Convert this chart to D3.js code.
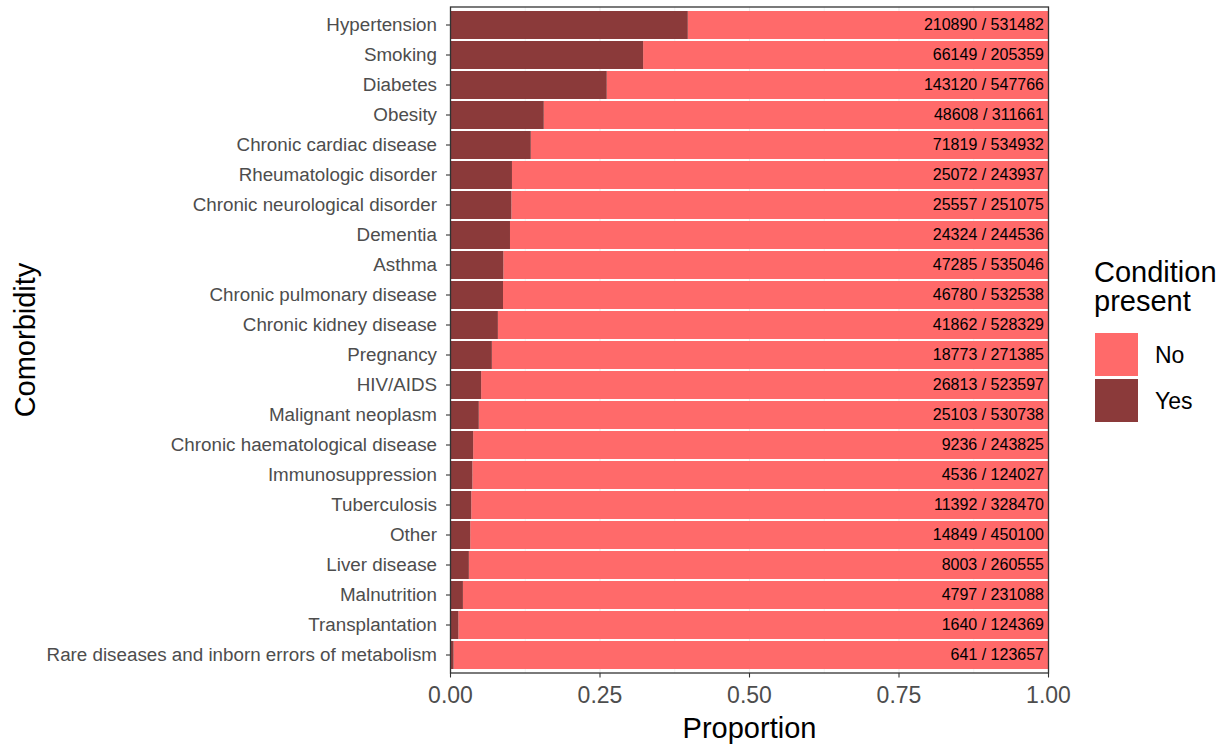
<!DOCTYPE html>
<html><head><meta charset="utf-8">
<script src="https://cdn.jsdelivr.net/npm/d3@7"></script>
<style>body{margin:0;background:#fff;font-family:"Liberation Sans",Arial,sans-serif;}</style>
</head><body><svg id="c" width="1226" height="746"></svg>
<script>
const categories = ["Hypertension","Smoking","Diabetes","Obesity","Chronic cardiac disease","Rheumatologic disorder","Chronic neurological disorder","Dementia","Asthma","Chronic pulmonary disease","Chronic kidney disease","Pregnancy","HIV/AIDS","Malignant neoplasm","Chronic haematological disease","Immunosuppression","Tuberculosis","Other","Liver disease","Malnutrition","Transplantation","Rare diseases and inborn errors of metabolism"];
const yesCounts = [210890,66149,143120,48608,71819,25072,25557,24324,47285,46780,41862,18773,26813,25103,9236,4536,11392,14849,8003,4797,1640,641];
const totalCounts = [531482,205359,547766,311661,534932,243937,251075,244536,535046,532538,528329,271385,523597,530738,243825,124027,328470,450100,260555,231088,124369,123657];
const xTicks = [0,0.25,0.5,0.75,1];
const xTickLabels = ["0.00","0.25","0.50","0.75","1.00"];
const legendLabels = ["No","Yes"];
const colors = {No:"#FF6A6A", Yes:"#8B3A3A"};

const svg = d3.select("#c");
const L = 450.5, R = 1048.5, T = 7, B = 673;
const x = d3.scaleLinear().domain([0,1]).range([L,R]);
const n = categories.length;
const unit = (B - T) / (n - 1 + 1.2);
const yc = d3.scalePoint().domain(categories).range([T + 0.6*unit, B - 0.6*unit]);
const bh = 28;

// grid
const g = svg.append("g");
d3.range(0.125,1,0.25).forEach(v=>g.append("line").attr("x1",x(v)).attr("x2",x(v)).attr("y1",T).attr("y2",B).attr("stroke","#ebebeb").attr("stroke-width",0.6));
xTicks.forEach(v=>g.append("line").attr("x1",x(v)).attr("x2",x(v)).attr("y1",T).attr("y2",B).attr("stroke","#ebebeb").attr("stroke-width",1.1));
categories.forEach(c=>g.append("line").attr("x1",L).attr("x2",R).attr("y1",yc(c)).attr("y2",yc(c)).attr("stroke","#ebebeb").attr("stroke-width",1.1));

const data = categories.map((c,i)=>({c, yes:yesCounts[i], total:totalCounts[i], p:yesCounts[i]/totalCounts[i]}));
svg.append("g").selectAll("rect").data(data).join("rect")
  .attr("x",d=>x(d.p)).attr("width",d=>x(1)-x(d.p))
  .attr("y",d=>yc(d.c)-bh/2).attr("height",bh).attr("fill",colors.No);
svg.append("g").selectAll("rect").data(data).join("rect")
  .attr("x",x(0)).attr("width",d=>x(d.p)-x(0))
  .attr("y",d=>yc(d.c)-bh/2).attr("height",bh).attr("fill",colors.Yes);
svg.append("g").selectAll("text").data(data).join("text")
  .attr("x",1044).attr("y",d=>yc(d.c)).attr("dy","0.3em").attr("text-anchor","end")
  .attr("font-size",16).attr("fill","#000").text(d=>d.yes+" / "+d.total);

svg.append("rect").attr("x",L).attr("y",T).attr("width",R-L).attr("height",B-T).attr("fill","none").attr("stroke","#333").attr("stroke-width",1.3);

const ya = svg.append("g");
categories.forEach(c=>{
  ya.append("line").attr("x1",L-4.5).attr("x2",L).attr("y1",yc(c)).attr("y2",yc(c)).attr("stroke","#333").attr("stroke-width",1.1);
  ya.append("text").attr("x",437).attr("y",yc(c)).attr("dy","0.3em").attr("text-anchor","end").attr("font-size",18.8).attr("fill","#4d4d4d").text(c);
});
const xa = svg.append("g");
xTicks.forEach((v,i)=>{
  xa.append("line").attr("x1",x(v)).attr("x2",x(v)).attr("y1",B).attr("y2",B+4.5).attr("stroke","#333").attr("stroke-width",1.1);
  xa.append("text").attr("x",x(v)).attr("y",703).attr("text-anchor","middle").attr("font-size",23).attr("fill","#4d4d4d").text(xTickLabels[i]);
});
svg.append("text").attr("x",(L+R)/2).attr("y",738).attr("text-anchor","middle").attr("font-size",29).attr("fill","#000").text("Proportion");
svg.append("text").attr("transform",`translate(35,${(T+B)/2}) rotate(-90)`).attr("text-anchor","middle").attr("font-size",29).attr("fill","#000").text("Comorbidity");

const lg = svg.append("g");
lg.append("text").attr("x",1094).attr("y",282).attr("font-size",29).attr("fill","#000").text("Condition");
lg.append("text").attr("x",1094).attr("y",311).attr("font-size",29).attr("fill","#000").text("present");
legendLabels.forEach((k,i)=>{
  lg.append("rect").attr("x",1095).attr("y",333+i*46).attr("width",43).attr("height",43).attr("fill",colors[k]);
  lg.append("text").attr("x",1155).attr("y",333+i*46+21.5).attr("dy","0.35em").attr("font-size",23).attr("fill","#000").text(k);
});
</script></body></html>
